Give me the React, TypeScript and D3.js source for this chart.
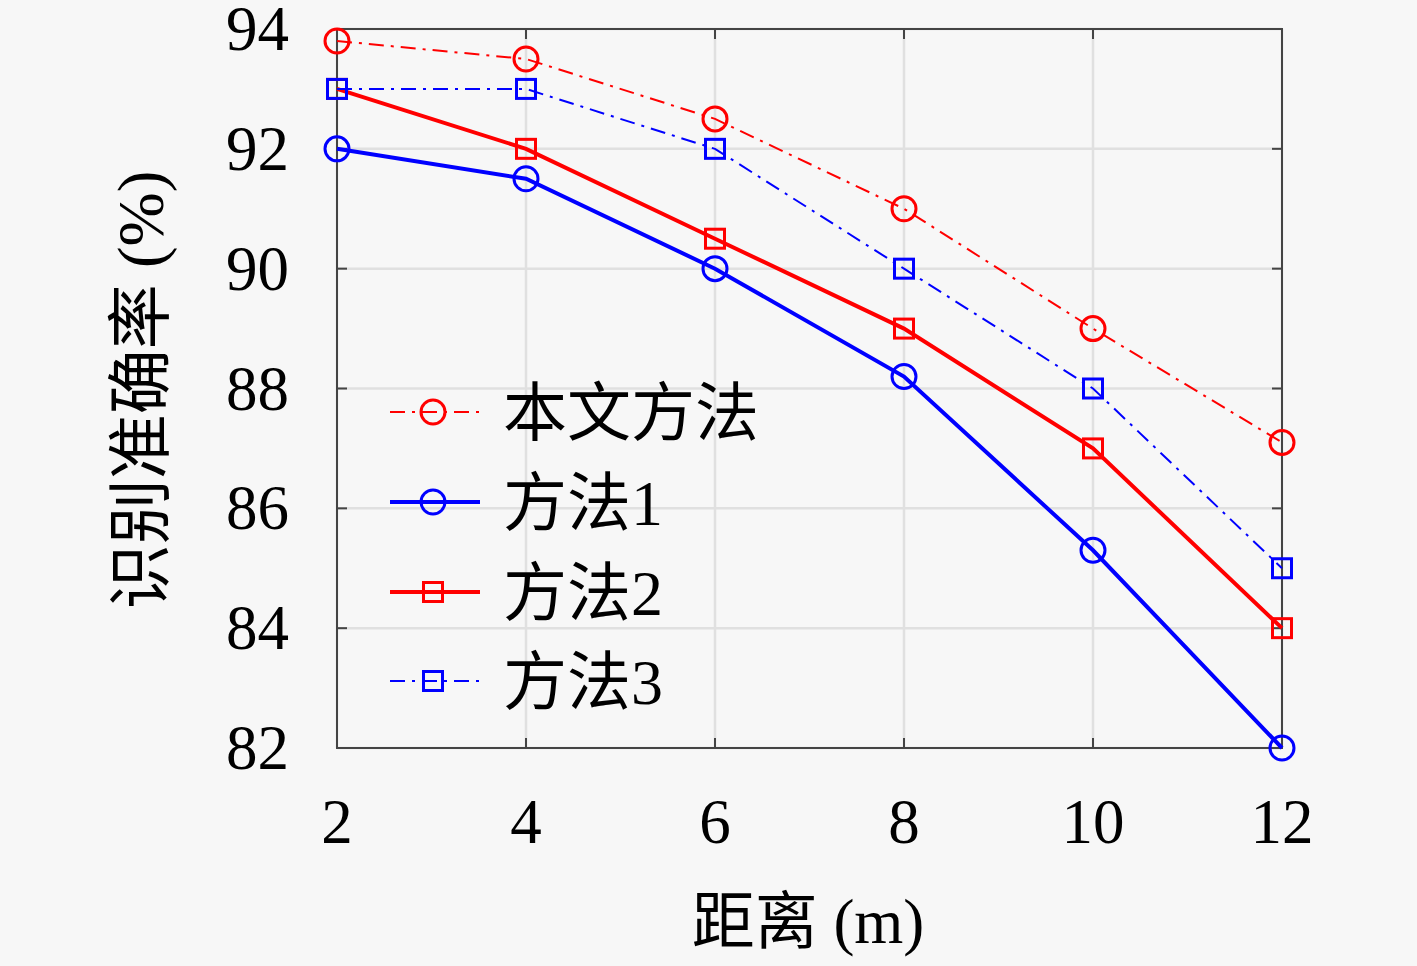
import React from "react";
import * as d3 from "d3";

const distances = [2, 4, 6, 8, 10, 12];
const oursValues = [93.8, 93.5, 92.5, 91.0, 89.0, 87.1];
const method1Values = [92.0, 91.5, 90.0, 88.2, 85.3, 82.0];
const method2Values = [93.0, 92.0, 90.5, 89.0, 87.0, 84.0];
const method3Values = [93.0, 93.0, 92.0, 90.0, 88.0, 85.0];
const xTicks = [2, 4, 6, 8, 10, 12];
const yTicks = [82, 84, 86, 88, 90, 92, 94];
const seriesNames = ["本文方法", "方法1", "方法2", "方法3"];

const W = 1417;
const H = 966;
const left = 337, right = 1282, top = 29, bottom = 748;
const FONT = "'Liberation Serif', 'DejaVu Serif', 'Noto Sans CJK SC', serif";

const series = [
  { name: seriesNames[0], values: oursValues, color: "#ff0000", marker: "circle", dash: "15,7,3,7", width: 2 },
  { name: seriesNames[1], values: method1Values, color: "#0000ff", marker: "circle", dash: "", width: 4 },
  { name: seriesNames[2], values: method2Values, color: "#ff0000", marker: "square", dash: "", width: 4 },
  { name: seriesNames[3], values: method3Values, color: "#0000ff", marker: "square", dash: "15,7,3,7", width: 2 },
];

function Marker({ type, x, y, color }: { type: string; x: number; y: number; color: string }) {
  if (type === "circle") {
    return <circle cx={x} cy={y} r={12} fill="none" stroke={color} strokeWidth={3} />;
  }
  return <rect x={x - 9.5} y={y - 9.5} width={19} height={19} fill="none" stroke={color} strokeWidth={3} />;
}

export default function App() {
  const x = d3.scaleLinear().domain([2, 12]).range([left, right]);
  const y = d3.scaleLinear().domain([82, 94]).range([bottom, top]);
  const line = (vals: number[]) =>
    d3.line<number>().x((_, i) => x(distances[i])).y((d) => y(d))(vals) || "";

  const legendX1 = 390, legendX2 = 480, legendMX = 433, textX = 503;
  const legendY = [412, 502, 592, 681];

  return (
    <svg width={W} height={H} style={{ position: "absolute", left: 0, top: 0, background: "#f7f7f7" }}>
      <rect x={0} y={0} width={W} height={H} fill="#f7f7f7" />
      {/* grid */}
      {xTicks.map((t) => (
        <line key={"gx" + t} x1={x(t)} x2={x(t)} y1={top} y2={bottom} stroke="#e0e0e0" strokeWidth={2.5} />
      ))}
      {yTicks.map((t) => (
        <line key={"gy" + t} x1={left} x2={right} y1={y(t)} y2={y(t)} stroke="#e0e0e0" strokeWidth={2.5} />
      ))}
      {/* ticks */}
      {xTicks.map((t) => (
        <g key={"tx" + t}>
          <line x1={x(t)} x2={x(t)} y1={bottom} y2={bottom - 10} stroke="#444" strokeWidth={2} />
          <line x1={x(t)} x2={x(t)} y1={top} y2={top + 10} stroke="#444" strokeWidth={2} />
        </g>
      ))}
      {yTicks.map((t) => (
        <g key={"ty" + t}>
          <line x1={left} x2={left + 10} y1={y(t)} y2={y(t)} stroke="#444" strokeWidth={2} />
          <line x1={right} x2={right - 10} y1={y(t)} y2={y(t)} stroke="#444" strokeWidth={2} />
        </g>
      ))}
      {/* box */}
      <rect x={left} y={top} width={right - left} height={bottom - top} fill="none" stroke="#444" strokeWidth={2} />
      {/* series */}
      {series.map((s) => (
        <g key={s.name}>
          <path d={line(s.values)} fill="none" stroke={s.color} strokeWidth={s.width} strokeDasharray={s.dash || undefined} />
          {s.values.map((v, i) => (
            <Marker key={i} type={s.marker} x={x(distances[i])} y={y(v)} color={s.color} />
          ))}
        </g>
      ))}
      {/* tick labels */}
      {yTicks.map((t) => (
        <text key={"ly" + t} x={289} y={y(t) + 21} textAnchor="end" fontFamily={FONT} fontSize={63} fill="#000">
          {t}
        </text>
      ))}
      {xTicks.map((t) => (
        <text key={"lx" + t} x={x(t)} y={843} textAnchor="middle" fontFamily={FONT} fontSize={63} fill="#000">
          {t}
        </text>
      ))}
      {/* axis titles */}
      <text x={808} y={943} textAnchor="middle" fontFamily={FONT} fontSize={63} fill="#000">
        距离 (m)
      </text>
      <text
        transform={`translate(163,390) rotate(-90)`}
        textAnchor="middle"
        fontFamily={FONT}
        fontSize={65}
        fill="#000"
      >
        识别准确率 (%)
      </text>
      {/* legend */}
      {series.map((s, i) => (
        <g key={"lg" + s.name}>
          <line x1={legendX1} x2={legendX2} y1={legendY[i]} y2={legendY[i]} stroke={s.color} strokeWidth={s.width} strokeDasharray={s.dash ? "15,7,3,7" : undefined} />
          <Marker type={s.marker} x={legendMX} y={legendY[i]} color={s.color} />
          <text x={textX} y={legendY[i] + 23} fontFamily={FONT} fontSize={64} fill="#000">
            {s.name}
          </text>
        </g>
      ))}
    </svg>
  );
}
